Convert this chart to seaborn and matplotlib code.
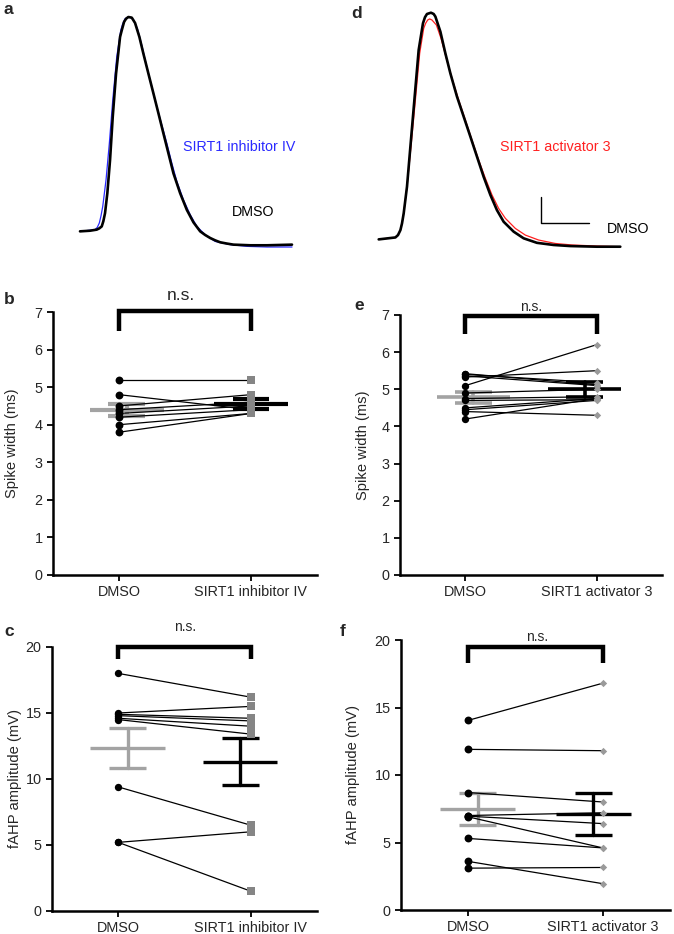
import numpy as np
import pandas as pd
import matplotlib
matplotlib.use("Agg")
import matplotlib.pyplot as plt
import seaborn as sns

# ---- action potential traces (time in ms, voltage in mV) ----
t_a_dmso = [0, 1.0, 1.67, 1.93, 2.17, 2.33, 2.5, 2.73, 3.0, 3.27, 3.6, 4.0, 4.17, 4.4, 4.6,
            4.83, 5.17, 5.5, 5.93, 6.33, 6.83, 7.33, 7.83, 8.33, 8.83, 9.33, 10.0, 10.67,
            11.33, 12.0, 12.5, 13.0, 13.5, 14.0, 14.67, 15.33, 17.0, 18.67, 21.17]
v_a_dmso = [-65, -64.7, -64.2, -63.6, -62.7, -60.3, -56.5, -47.2, -31.7, -11.5, 8.6, 25.7,
            28.8, 32.7, 34.2, 35.0, 34.7, 32.2, 25.7, 17.9, 8.6, -0.6, -9.9, -19.3, -28.6,
            -37.9, -47.2, -55.0, -60.8, -65.0, -66.7, -68.1, -69.2, -70.1, -70.7, -71.2,
            -71.5, -71.5, -71.2]
t_a_inh = [0, 1.5, 1.73, 1.93, 2.1, 2.27, 2.6, 2.93, 3.27, 3.67, 4.07, 4.27, 4.5, 4.7, 4.93,
           5.13, 5.33, 5.73, 6.17, 6.67, 7.17, 7.67, 8.17, 8.67, 9.17, 9.67, 10.33, 11.0,
           11.67, 12.5, 13.5, 15.0, 16.67, 18.67, 21.17]
v_a_inh = [-65, -64.2, -63.1, -61.1, -57.7, -53.4, -41.0, -23.9, -3.8, 16.4, 28.8, 31.9, 34.2,
           34.7, 35.0, 34.5, 33.8, 29.6, 21.8, 11.7, 2.4, -6.9, -15.4, -23.9, -33.2, -41.7,
           -50.3, -57.2, -62.7, -66.6, -69.7, -71.2, -72.0, -72.3, -72.3]

t_d_dmso = [0, 1.67, 1.93, 2.17, 2.33, 2.5, 2.83, 3.17, 3.57, 4.0, 4.43, 4.63, 4.83, 5.23, 5.5,
            5.67, 6.17, 6.67, 7.17, 7.83, 8.5, 9.17, 9.83, 10.5, 11.17, 11.83, 12.5, 13.5,
            14.5, 15.83, 17.5, 19.17, 21.83, 24.17]
v_d_dmso = [-65.0, -64.1, -63.0, -60.7, -57.6, -52.9, -40.5, -21.9, -0.2, 23.1, 35.5, 38.3,
            39.8, 40.4, 39.8, 38.6, 31.6, 21.5, 12.2, 1.4, -7.9, -17.2, -26.5, -35.9, -44.3,
            -51.4, -56.8, -61.4, -64.5, -66.6, -67.6, -68.1, -68.4, -68.4]
t_d_act = [0, 1.67, 1.93, 2.17, 2.33, 2.5, 2.83, 3.23, 3.67, 4.1, 4.5, 4.7, 4.9, 5.1, 5.33,
           5.77, 6.23, 6.77, 7.33, 8.0, 8.67, 9.33, 10.0, 10.67, 11.33, 12.0, 12.67, 13.67,
           14.67, 16.0, 17.67, 19.33, 21.83, 24.17]
v_d_act = [-65.0, -64.1, -63.0, -60.7, -57.6, -52.9, -40.5, -21.9, -0.2, 21.5, 33.1, 35.5,
           37.0, 37.5, 37.0, 34.7, 28.5, 19.2, 9.9, -0.2, -9.5, -18.8, -28.1, -36.6, -44.3,
           -50.6, -55.2, -59.9, -63.0, -65.3, -66.9, -67.6, -68.1, -68.4]

# scale bar in d: 5 ms x 12 mV
scalebar_t = [16.2, 16.2, 21.0]
scalebar_v = [-45.5, -57.2, -57.2]

# ---- paired measurements ----
conditions_inh = ["DMSO", "SIRT1 inhibitor IV"]
conditions_act = ["DMSO", "SIRT1 activator 3"]

width_inh_dmso = [5.2, 4.8, 4.5, 4.4, 4.3, 4.2, 4.0, 3.8]
width_inh_drug = [5.2, 4.4, 4.8, 4.6, 4.5, 4.4, 4.3, 4.3]
width_inh_mean = [4.39, 4.55]
width_inh_sem = [0.17, 0.13]

width_act_dmso = [5.42, 5.4, 5.36, 5.33, 5.1, 4.9, 4.75, 4.7, 4.5, 4.45, 4.4, 4.2]
width_act_drug = [5.12, 5.18, 5.1, 5.5, 6.2, 5.0, 4.8, 4.72, 4.75, 4.7, 4.3, 4.75]
width_act_mean = [4.78, 5.0]
width_act_sem = [0.14, 0.2]

fahp_inh_dmso = [18.0, 15.0, 14.9, 14.8, 14.6, 14.5, 9.4, 5.2, 5.2]
fahp_inh_drug = [16.2, 15.5, 14.6, 14.4, 14.0, 13.4, 6.5, 6.0, 1.5]
fahp_inh_mean = [12.35, 11.31]
fahp_inh_sem = [1.55, 1.77]

fahp_act_dmso = [14.05, 11.9, 8.7, 7.0, 6.95, 6.9, 5.3, 3.6, 3.1]
fahp_act_drug = [16.8, 11.8, 8.0, 7.2, 6.4, 4.6, 4.6, 1.95, 3.15]
fahp_act_mean = [7.47, 7.13]
fahp_act_sem = [1.2, 1.55]

sns.set_theme(style="ticks")
plt.rcParams["font.family"] = ["Liberation Sans", "DejaVu Sans"]

W, H = 674, 934
fig = plt.figure(figsize=(W / 100, H / 100), dpi=100)


def px_axes(left, top, right, bottom):
    return fig.add_axes([left / W, 1 - bottom / H, (right - left) / W, (bottom - top) / H])


def px_text(x, y, s, **kw):
    fig.text(x / W, 1 - y / H, s, **kw)


# ---- traces ----
ax_a = px_axes(80, 17, 292, 247)
sns.lineplot(x=t_a_inh, y=v_a_inh, ax=ax_a, color="#2a2aff", lw=0.9)
sns.lineplot(x=t_a_dmso, y=v_a_dmso, ax=ax_a, color="black", lw=1.9)
ax_a.set_xlim(0, 21.17)
ax_a.set_ylim(-72.3, 35)
ax_a.axis("off")
for ln in ax_a.lines:
    ln.set_clip_on(False)
    ln.set_solid_joinstyle("round")

ax_d = px_axes(378.7, 12.7, 620.3, 246.7)
sns.lineplot(x=t_d_act, y=v_d_act, ax=ax_d, color="#ff2020", lw=0.9)
sns.lineplot(x=t_d_dmso, y=v_d_dmso, ax=ax_d, color="black", lw=1.9)
ax_d.plot(scalebar_t, scalebar_v, color="black", lw=1.0)
ax_d.set_xlim(0, 24.17)
ax_d.set_ylim(-68.4, 40.4)
ax_d.axis("off")
for ln in ax_d.lines:
    ln.set_clip_on(False)
    ln.set_solid_joinstyle("round")

px_text(183, 147, "SIRT1 inhibitor IV", color="#2a2aff", fontsize=10.3, va="center")
px_text(232, 212, "DMSO", color="black", fontsize=10.3, va="center")
px_text(500, 147, "SIRT1 activator 3", color="#ff2020", fontsize=10.3, va="center")
px_text(607, 229, "DMSO", color="black", fontsize=10.3, va="center")


def paired_panel(ax, dmso, drug, means, sems, labels, ylim, yticks, ylabel, label_x,
                 drug_marker, drug_size, dot_size, drug_color, bracket, offsets, err_lw):
    n = len(dmso)
    df = pd.DataFrame({
        "cell": list(range(n)) * 2,
        "pos": [0] * n + [1] * n,
        "value": list(dmso) + list(drug),
    })
    # mean +/- SEM
    err_colors = ["#a3a3a3", "black"]
    for i in range(2):
        c = i + offsets[i]
        m, s = means[i], sems[i]
        ax.plot([c - 0.28, c + 0.28], [m, m], color=err_colors[i], lw=err_lw, zorder=1,
                solid_capstyle="butt")
        ax.plot([c, c], [m - s, m + s], color=err_colors[i], lw=err_lw, zorder=1)
        for y in (m - s, m + s):
            ax.plot([c - 0.14, c + 0.14], [y, y], color=err_colors[i], lw=err_lw, zorder=1,
                    solid_capstyle="butt")
    sns.lineplot(data=df, x="pos", y="value", units="cell", estimator=None,
                 color="black", lw=0.9, ax=ax, zorder=2)
    sns.scatterplot(x=[0] * n, y=dmso, ax=ax, marker="o", s=dot_size, color="black",
                    linewidth=0, zorder=3)
    sns.scatterplot(x=[1] * n, y=drug, ax=ax, marker=drug_marker, s=drug_size,
                    color=drug_color, linewidth=0, zorder=3)
    # significance bracket
    top, leg = bracket
    ax.plot([0, 0, 1, 1], [leg, top, top, leg], color="black", lw=3.2, clip_on=False,
            solid_capstyle="butt", solid_joinstyle="miter", zorder=4)
    ax.set_xlim(-0.5, 1.5)
    ax.set_ylim(*ylim)
    ax.set_yticks(yticks)
    ax.set_xticks([0, 1])
    ax.set_xticklabels(labels, fontsize=10.4)
    ax.tick_params(axis="y", labelsize=10.4)
    ax.tick_params(direction="out", length=4, width=1.3, color="black")
    ax.set_xlabel("")
    ax.set_ylabel(ylabel, fontsize=10.6)
    ax.yaxis.set_label_coords(label_x, 0.5)
    for side in ("top", "right"):
        ax.spines[side].set_visible(False)
    for side in ("left", "bottom"):
        ax.spines[side].set_linewidth(1.8)
        ax.spines[side].set_color("black")


ax_b = px_axes(53, 312, 317, 575)
paired_panel(ax_b, width_inh_dmso, width_inh_drug, width_inh_mean, width_inh_sem,
             conditions_inh, (0, 7), range(0, 8), "Spike width (ms)", -0.129,
             "s", 38, 32, "#858585", (7.02, 6.5), (0.06, 0.0), 3.0)

ax_e = px_axes(400, 315, 662, 575)
paired_panel(ax_e, width_act_dmso, width_act_drug, width_act_mean, width_act_sem,
             conditions_act, (0, 7), range(0, 8), "Spike width (ms)", -0.115,
             "D", 14, 28, "#9a9a9a", (6.96, 6.5), (0.06, -0.09), 2.6)

ax_c = px_axes(52, 647, 317, 911)
paired_panel(ax_c, fahp_inh_dmso, fahp_inh_drug, fahp_inh_mean, fahp_inh_sem,
             conditions_inh, (0, 20), range(0, 21, 5), "fAHP amplitude (mV)", -0.113,
             "s", 34, 28, "#858585", (20.0, 19.1), (0.07, -0.08), 2.4)

ax_f = px_axes(401, 640, 670, 910)
paired_panel(ax_f, fahp_act_dmso, fahp_act_drug, fahp_act_mean, fahp_act_sem,
             conditions_act, (0, 20), range(0, 21, 5), "fAHP amplitude (mV)", -0.152,
             "D", 14, 32, "#9a9a9a", (19.5, 18.3), (0.07, -0.07), 2.4)

# n.s. labels
px_text(181, 295, "n.s.", fontsize=12.5, ha="center", va="center")
px_text(531, 307, "n.s.", fontsize=10, ha="center", va="center")
px_text(185, 627, "n.s.", fontsize=10, ha="center", va="center")
px_text(537, 637, "n.s.", fontsize=10, ha="center", va="center")

# panel letters
for x, y, s in [(4, 10, "a"), (351, 13, "d"), (4, 300, "b"), (354, 305, "e"),
                (4, 631, "c"), (340, 632, "f")]:
    px_text(x, y, s, fontsize=12.5, fontweight="bold", va="center")

fig.savefig("out.png", dpi=100)
